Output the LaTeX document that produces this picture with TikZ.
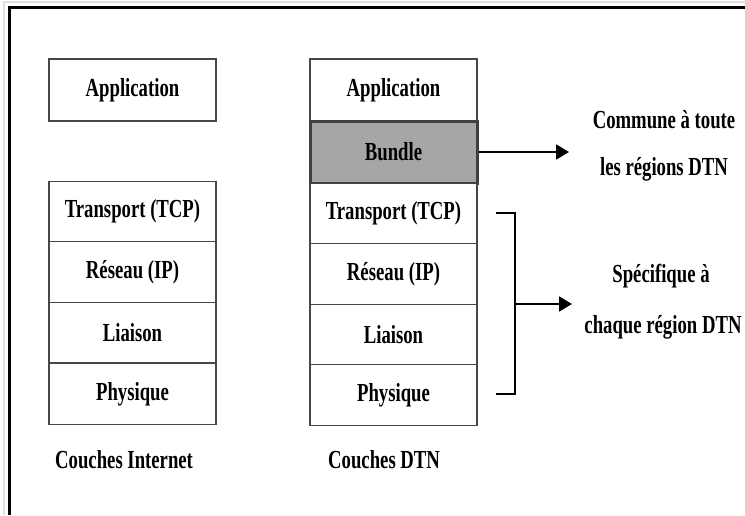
\documentclass[tikz,border=0pt]{standalone}
\usepackage{fontspec}
\setmainfont{Liberation Serif}
\usetikzlibrary{arrows.meta}
% condensed bold label text
\newcommand\cond[1]{\scalebox{0.72}[1]{\bfseries #1}}
\begin{document}
\begin{tikzpicture}[x=1pt,y=-1pt,
  layer/.style={draw=black!72, line width=1.3pt, fill=white,
    minimum width=167pt, minimum height=#1, inner sep=0pt,
    font=\fontsize{26}{30}\selectfont},
  layer/.default=60.5pt,
  bundlebox/.style={draw=black!75, line width=3pt, fill=gray!70,
    minimum width=167pt, minimum height=62pt, inner sep=0pt,
    font=\fontsize{26}{30}\selectfont},
  caption/.style={inner sep=0pt, font=\fontsize{26}{30}\selectfont},
  pointer/.style={line width=2pt, -{Triangle[length=13pt,width=15pt]}},
  brace/.style={line width=2.6pt}]
  \useasboundingbox (0,0) rectangle (745,515);
  \fill[white] (0,0) rectangle (745,515);

  % outer frame (top and left edges)
  \draw[black!12, line width=2pt] (4,515) |- (745,2);
  \draw[line width=3.6pt] (9.5,515) |- (745,7.5);

  % Internet stack
  \node[layer=62pt] (iapp) at (132.5,90) {\cond{Application}};
  \node[layer] (itcp) at (132.5,211.5) {\cond{Transport (TCP)}};
  \node[layer] (iip)  at (132.5,272)   {\cond{Réseau (IP)}};
  \node[layer] (ilnk) at (132.5,332.5) {\cond{Liaison}};
  \node[layer] (iphy) at (132.5,394)   {\cond{Physique}};
  \node[caption, anchor=base west] (ilab) at (55,468) {\cond{Couches Internet}};

  % DTN stack
  \node[layer=62pt] (dapp) at (393.5,90) {\cond{Application}};
  \node[bundlebox] (dbun) at (393.5,152) {\cond{Bundle}};
  \node[layer] (dtcp) at (393.5,213.5) {\cond{Transport (TCP)}};
  \node[layer] (dip)  at (393.5,274)   {\cond{Réseau (IP)}};
  \node[layer] (dlnk) at (393.5,334.5) {\cond{Liaison}};
  \node[layer] (dphy) at (393.5,395)   {\cond{Physique}};
  \node[caption, anchor=base west] (dlab) at (328,468) {\cond{Couches DTN}};

  % Bundle layer: common to all regions
  \coordinate (bt) at (569,152);
  \draw[pointer] (dbun.east) -- (bt);
  \node[caption, anchor=base] (c1) at (664,128) {\cond{Commune à toute}};
  \node[caption, anchor=base] (c2) at (664,175) {\cond{les régions DTN}};

  % bracket over the lower layers: region specific
  \coordinate (b1) at (496,213);
  \coordinate (b2) at (515,213);
  \coordinate (b3) at (515,394);
  \coordinate (b4) at (496,394);
  \coordinate (bm) at (515,304);
  \coordinate (st) at (572,304);
  \draw[brace] (b1) -- (b2) -- (b3) -- (b4);
  \draw[pointer] (bm) -- (st);
  \node[caption, anchor=base] (s1) at (661,282) {\cond{Spécifique à}};
  \node[caption, anchor=base] (s2) at (663,333) {\cond{chaque région DTN}};
\end{tikzpicture}
\end{document}
